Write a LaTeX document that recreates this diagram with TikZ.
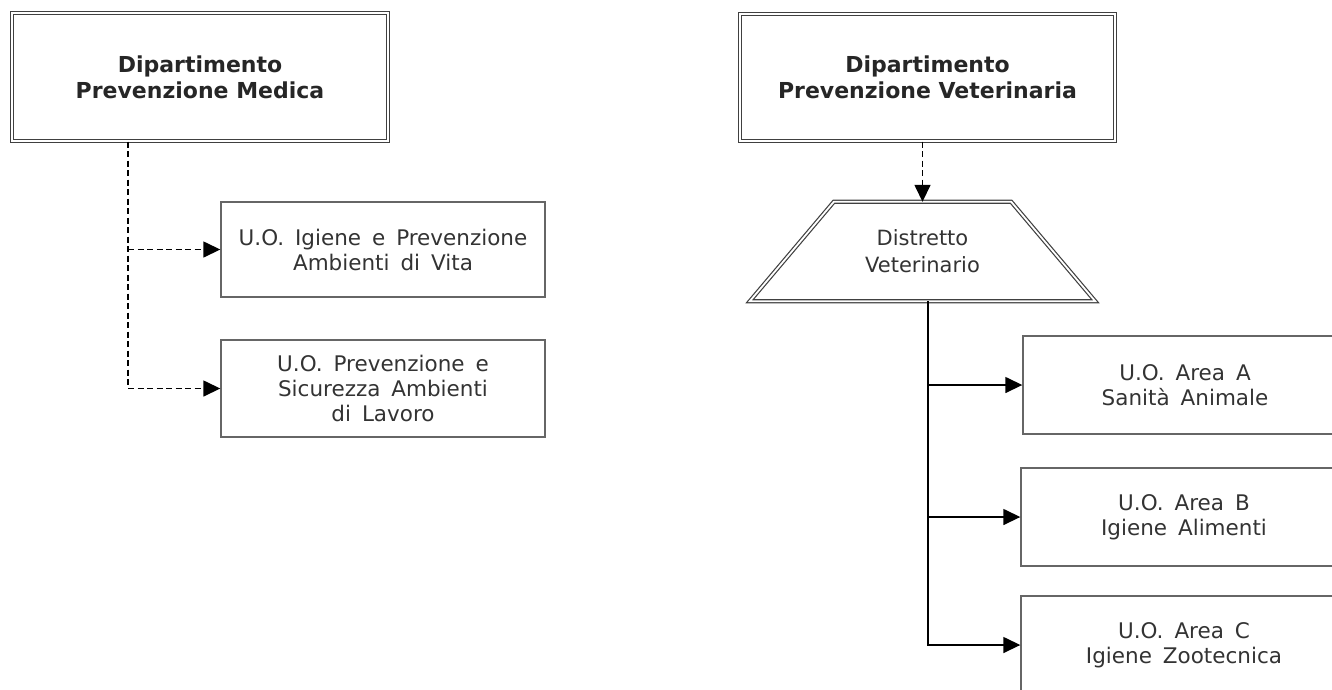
\documentclass[tikz,border=0pt]{standalone}
\usepackage{fontspec}
\setmainfont{DejaVu Sans}
\newfontfamily\boxfont{DejaVu Sans}[WordSpace=1.6]
\usetikzlibrary{arrows.meta,calc}

\begin{document}
\begin{tikzpicture}[x=1pt,y=-1pt,
  dept/.style={draw=black!75, double=white, double distance=1.8pt, line width=1.2pt,
    minimum width=376pt, minimum height=128pt, align=center,
    font=\bfseries\fontsize{22}{26}\selectfont, text=black!85},
  unit/.style={draw=black!60, line width=1.4pt, minimum width=324pt, minimum height=97pt,
    align=center, font=\boxfont\fontsize{21.5}{25}\selectfont, text=black!80},
  distbox/.style={minimum width=345pt, minimum height=99pt, align=center,
    font=\fontsize{21}{27}\selectfont, text=black!80},
  dbl/.style={draw=black!75, double=white, double distance=1.8pt, line width=1.2pt},
  conn/.style={line width=1.5pt, -{Triangle[length=17pt,width=16pt]}},
  dconn/.style={conn, dash pattern=on 6pt off 3.5pt}]

\useasboundingbox (0,0) rectangle (1332,689);
\clip (0,0) rectangle (1332,689);

% medical prevention branch
\node[dept] (deptM) at (200,77) {Dipartimento\\Prevenzione Medica};
\node[unit, minimum height=95pt] (uo1) at (383,249.5) {U.O. Igiene e Prevenzione\\Ambienti di Vita};
\node[unit] (uo2) at (383,388.5) {U.O. Prevenzione e\\Sicurezza Ambienti\\di Lavoro};

\coordinate (lt) at ([xshift=-72pt]deptM.south);
\draw[dconn] (lt) |- (uo2.west);
\draw[dconn] (lt |- uo1.west) -- (uo1.west);

% veterinary prevention branch
\node[dept, minimum width=375pt, minimum height=127pt] (deptV) at (927.5,77.5) {Dipartimento\\Prevenzione Veterinaria};
\node[distbox] (distr) at (922.5,251.5) {Distretto\\Veterinario};
\draw[dbl] (distr.south west) -- ($(distr.north west)+(84,0)$) -- ($(distr.north east)+(-84,0)$)
  -- (distr.south east) -- cycle;

\node[unit, minimum height=98pt] (uoA) at (1185,385) {U.O. Area A\\Sanità Animale};
\node[unit, minimum height=98pt, minimum width=326pt] (uoB) at (1184,517) {U.O. Area B\\Igiene Alimenti};
\node[unit, minimum height=98pt, minimum width=326pt] (uoC) at (1184,645) {U.O. Area C\\Igiene Zootecnica};

\draw[dconn] (distr.north |- deptV.south) -- (distr.north);
\coordinate (rt) at ([xshift=5.5pt]distr.south);
\draw[conn] (rt) |- (uoC.west);
\draw[conn] (rt |- uoA.west) -- (uoA.west);
\draw[conn] (rt |- uoB.west) -- (uoB.west);
\end{tikzpicture}
\end{document}
